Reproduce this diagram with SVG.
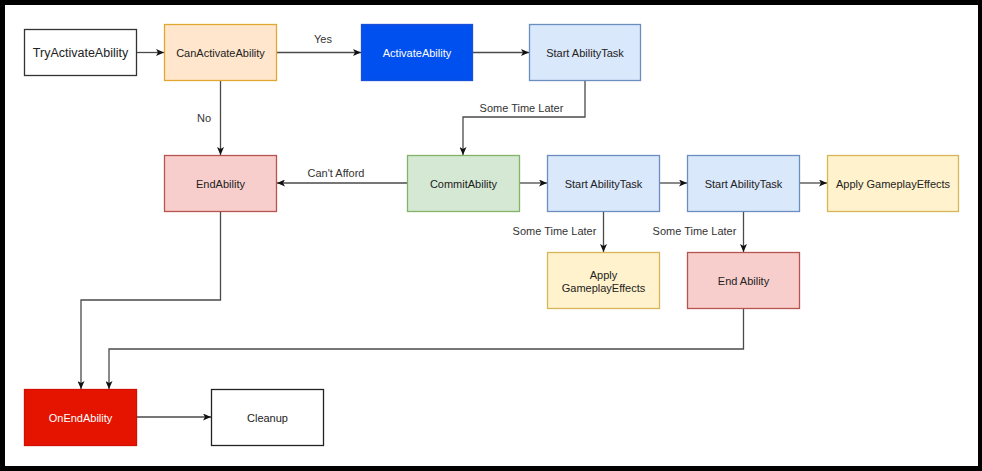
<svg xmlns="http://www.w3.org/2000/svg" width="982" height="471" viewBox="0 0 982 471">
<style>
.n rect{stroke-width:1.3}
.t{font-family:"Liberation Sans",Arial,sans-serif;font-size:11px;fill:#222;text-anchor:middle}
.w{fill:#fff}
.e{fill:none;stroke:#4a4a4a;stroke-width:1.3;marker-end:url(#a)}
.l{font-family:"Liberation Sans",Arial,sans-serif;font-size:11px;fill:#333;text-anchor:middle}
</style>
<defs>
<marker id="a" viewBox="0 0 8 7" refX="8" refY="3.5" markerWidth="8" markerHeight="7" markerUnits="userSpaceOnUse" orient="auto">
<path d="M0,0 L8,3.5 L0,7 L2,3.5 z" fill="#111"/>
</marker>
</defs>
<rect x="0" y="0" width="982" height="471" fill="#000"/>
<rect x="5" y="5" width="973" height="461" fill="#fff"/>

<g id="connectors">
<path class="e" d="M137,52.5 H164"/>
<path class="e" d="M277,52.5 H361"/>
<path class="e" d="M473,52.5 H529"/>
<path class="e" d="M585,81 V117 H463 V155"/>
<path class="e" d="M220.5,81 V155"/>
<path class="e" d="M407,183 H277"/>
<path class="e" d="M520,183 H547"/>
<path class="e" d="M660,183 H687"/>
<path class="e" d="M800,183 H827"/>
<path class="e" d="M603.5,211 V252"/>
<path class="e" d="M743.5,211 V252"/>
<path class="e" d="M220.5,211 V300 H81 V389"/>
<path class="e" d="M743.5,309 V349 H109 V389"/>
<path class="e" d="M137,417 H211"/>
<text class="l" x="323" y="43">Yes</text>
<text class="l" x="204" y="122">No</text>
<text class="l" x="336" y="177">Can't Afford</text>
<text class="l" x="521.5" y="112">Some Time Later</text>
<text class="l" x="554.5" y="235">Some Time Later</text>
<text class="l" x="694.5" y="235">Some Time Later</text>
</g>

<g id="tryActivate" class="n"><rect x="24.5" y="29.5" width="112" height="46" fill="#fff" stroke="#333"/><text class="t" x="80.5" y="57" style="font-size:12.5px">TryActivateAbility</text></g>
<g id="canActivate" class="n"><rect x="164.5" y="24.5" width="112" height="56" fill="#ffe6cc" stroke="#e0a830"/><text class="t" x="220.5" y="56.5">CanActivateAbility</text></g>
<g id="activate" class="n"><rect x="361.5" y="24.5" width="111" height="56" fill="#0050ef" stroke="#1a4fd8"/><text class="t w" x="417" y="56.5">ActivateAbility</text></g>
<g id="startTask1" class="n"><rect x="529.5" y="24.5" width="111" height="56" fill="#dae8fc" stroke="#6c8ebf"/><text class="t" x="585" y="56.5">Start AbilityTask</text></g>
<g id="endAbility" class="n"><rect x="164.5" y="155.5" width="112" height="56" fill="#f8cecc" stroke="#b85450"/><text class="t" x="220.5" y="187.5">EndAbility</text></g>
<g id="commit" class="n"><rect x="407.5" y="155.5" width="112" height="56" fill="#d5e8d4" stroke="#82b366"/><text class="t" x="463.5" y="187.5">CommitAbility</text></g>
<g id="startTask2" class="n"><rect x="547.5" y="155.5" width="112" height="56" fill="#dae8fc" stroke="#6c8ebf"/><text class="t" x="603.5" y="187.5">Start AbilityTask</text></g>
<g id="startTask3" class="n"><rect x="687.5" y="155.5" width="112" height="56" fill="#dae8fc" stroke="#6c8ebf"/><text class="t" x="743.5" y="187.5">Start AbilityTask</text></g>
<g id="applyGE1" class="n"><rect x="827.5" y="155.5" width="131" height="56" fill="#fff2cc" stroke="#d6b656"/><text class="t" x="893" y="187.5">Apply GameplayEffects</text></g>
<g id="applyGE2" class="n"><rect x="547.5" y="252.5" width="112" height="56" fill="#fff2cc" stroke="#d6b656"/><text class="t" x="603.5" y="279">Apply</text><text class="t" x="603.5" y="292">GameplayEffects</text></g>
<g id="endAbility2" class="n"><rect x="687.5" y="252.5" width="112" height="56" fill="#f8cecc" stroke="#b85450"/><text class="t" x="743.5" y="285">End Ability</text></g>
<g id="onEndAbility" class="n"><rect x="24.5" y="389.5" width="112" height="56" fill="#e51400" stroke="#d01000"/><text class="t w" x="80.5" y="421.5">OnEndAbility</text></g>
<g id="cleanup" class="n"><rect x="211.5" y="389.5" width="112" height="56" fill="#fff" stroke="#222"/><text class="t" x="267.5" y="421.5">Cleanup</text></g>
</svg>
